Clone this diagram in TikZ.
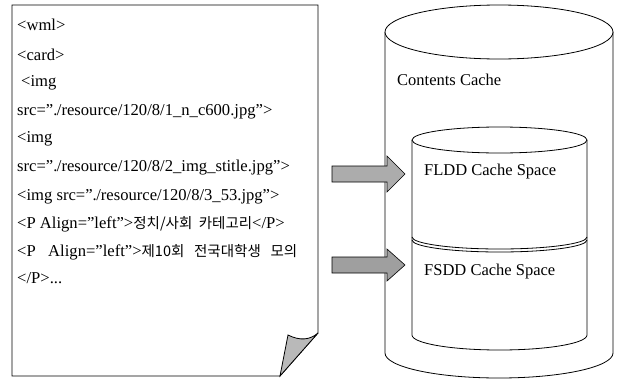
\documentclass[tikz,border=0pt]{standalone}
\usepackage{fontspec}
\setmainfont{Liberation Serif}
\newfontfamily\kr{Noto Sans CJK KR}
\newcommand\qq{\symbol{34}}
\begin{document}
\begin{tikzpicture}[x=1pt,y=-1pt,
  line/.style={draw=black,line width=0.8pt},
  code/.style={anchor=west,inner sep=0pt,font=\fontsize{16.6}{18}\selectfont},
  lab/.style={anchor=west,inner sep=0pt,font=\fontsize{16.5}{18}\selectfont},
  blockarrow/.style={draw=black,line width=0.6pt}]
\useasboundingbox (0,0) rectangle (620,380);
% document
\draw[line,fill=white] (12,5) -- (318,5) -- (318,333) -- (280,376) -- (12,376) -- cycle;
\draw[line,fill=gray!55] (288,335) .. controls (300,341) and (310,340) .. (318,333) -- (280,376) -- cycle;
\node[code] (t1) at (17,25) {<wml>};
\node[code] (t2) at (17,55) {<card>};
\node[code] (t3) at (21,83) {<img};
\node[code] (t4) at (17,112) {src=\qq.\kern-0.5pt/resource/120/8/1\_n\_c600.jpg\qq>};
\node[code] (t5) at (17,139) {<img};
\node[code] (t6) at (17,168) {src=\qq.\kern-0.5pt/resource/120/8/2\_img\_stitle.jpg\qq>};
\node[code] (t7) at (17,197) {<img src=\qq.\kern-0.5pt/resource/120/8/3\_53.jpg\qq>};
\node[code] (t8) at (17,224) {<P Align=\qq left\qq>{\kr\fontsize{14.5}{16}\selectfont 정치/사회\ \ 카테고리}</P>};
\node[code] (t9) at (17,252) {<P\ \ \ Align=\qq left\qq>{\kr\fontsize{14.5}{16}\selectfont 제10회\ \ \ 전국대학생\ \ \ 모의}};
\node[code] (t10) at (17,278) {</P>...};
% big cylinder
\draw[line,fill=white] (385,32) -- (385,353) arc[start angle=180,end angle=0,x radius=114,y radius=25] -- (613,32);
\draw[line,fill=white] (499,32) ellipse[x radius=114,y radius=27];
\node[lab] (cc) at (397,80) {Contents Cache};
% inner cylinder
\draw[line,fill=white] (412,140) -- (412,335) arc[start angle=180,end angle=0,x radius=87.5,y radius=15] -- (587,140);
\draw[line,fill=white] (499.5,140) ellipse[x radius=87.5,y radius=13];
\draw[line] (412,237) arc[start angle=180,end angle=0,x radius=87.5,y radius=12];
\draw[line] (412,240) arc[start angle=180,end angle=0,x radius=87.5,y radius=12];
\node[lab] (fl) at (424,172) {FLDD Cache Space};
\node[lab] (fs) at (424,272) {FSDD Cache Space};
% block arrows
\draw[blockarrow,fill=gray!65] (332,166) -- (387,166) -- (387,156) -- (405,174) -- (387,192) -- (387,182) -- (332,182) -- cycle;
\draw[blockarrow,fill=gray!75] (332,257) -- (387,257) -- (387,249) -- (405,265) -- (387,281) -- (387,273) -- (332,273) -- cycle;
\end{tikzpicture}
\end{document}
